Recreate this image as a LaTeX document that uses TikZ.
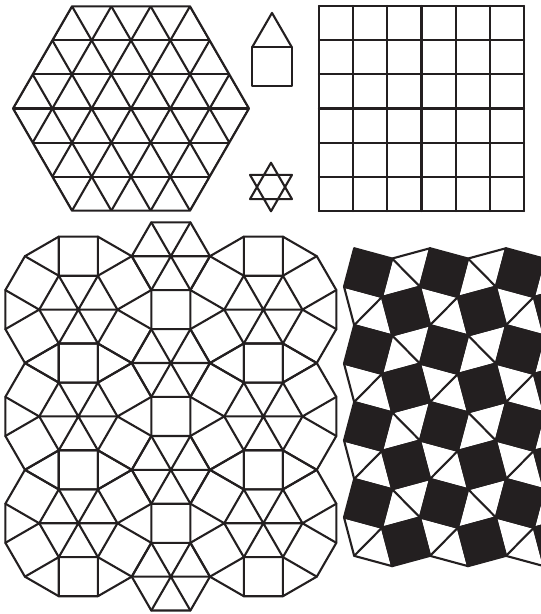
\documentclass[tikz,border=0pt]{standalone}
\usepackage{tikz}
\usetikzlibrary{calc}
\definecolor{ink}{RGB}{35,31,32}
\tikzset{every picture/.append style={thick}}
\tikzset{
    edge/.style={draw=ink, line width=2.1pt, line join=round, line cap=round},
    darktile/.style={fill=ink, draw=ink, line width=2.1pt, line join=round},
    lighttile/.style={fill=white, draw=ink, line width=2.1pt, line join=round}
}

\begin{document}
\begin{tikzpicture}[x=1pt,y=1pt]
    \useasboundingbox (0,0) rectangle (541,-614);

    % hexagon cut into triangles
    \begin{scope}[shift={(131,-108.5)}]
        \begin{scope}
            \clip (0:118) -- (60:118) -- (120:118) -- (180:118) -- (240:118) -- (300:118) -- cycle;
            \foreach \k in {-3,...,3} {
                \draw[edge] (-130,\k*34.06) -- (130,\k*34.06);
            }
            \foreach \m in {-6,...,6} {
                \draw[edge] ($(\m*39.33,0)+(240:250)$) -- ($(\m*39.33,0)+(60:250)$);
                \draw[edge] ($(\m*39.33,0)+(300:250)$) -- ($(\m*39.33,0)+(120:250)$);
            }
        \end{scope}
        \draw[edge] (0:118) -- (60:118) -- (120:118) -- (180:118) -- (240:118) -- (300:118) -- cycle;
    \end{scope}

    % house and star
    \draw[edge] (252.3,-86.3) rectangle (291.7,-47);
    \draw[edge] (252.3,-47) -- (272,-12.9) -- (291.7,-47);
    \draw[edge] (271,-187) +(90:24.25) -- +(210:24.25) -- +(330:24.25) -- cycle
                (271,-187) +(270:24.25) -- +(30:24.25) -- +(150:24.25) -- cycle;

    % square grid
    \foreach \i in {0,...,6} {
        \draw[edge] (319+\i*34.17,-6) -- (319+\i*34.17,-211);
        \draw[edge] (319,-6-\i*34.17) -- (524,-6-\i*34.17);
    }

    % squares, triangles and hexagons
    \foreach \cx/\cy in {170.85/256.2, 170.85/363.02, 170.85/469.84, 170.85/576.66,
                         78.34/309.61, 78.34/416.43, 78.34/523.25,
                         263.36/309.61, 263.36/416.43, 263.36/523.25} {
        \draw[edge] (\cx,-\cy) +(0:39.1) -- +(60:39.1) -- +(120:39.1) -- +(180:39.1) -- +(240:39.1) -- +(300:39.1) -- cycle;
        \draw[edge] (\cx,-\cy) +(0:39.1) -- +(180:39.1) +(60:39.1) -- +(240:39.1) +(120:39.1) -- +(300:39.1);
    }
    \foreach \cx/\cy in {78.34/309.61, 78.34/416.43, 78.34/523.25,
                         263.36/309.61, 263.36/416.43, 263.36/523.25} {
        \draw[edge] (\cx,-\cy) +(15:75.54) \foreach \t in {45,75,...,345} { -- +(\t:75.54) } -- cycle;
        \foreach \t in {0,60,...,300} {
            \draw[edge] ($(\cx,-\cy)+(\t:39.1)$) -- ($(\cx,-\cy)+(\t+15:75.54)$)
                        ($(\cx,-\cy)+(\t:39.1)$) -- ($(\cx,-\cy)+(\t-15:75.54)$);
        }
    }

    % black squares with white triangles
    \begin{scope}
        \clip (0,0) rectangle (541,-614);
        \begin{scope}[shift={(368.07,-272.6)}, yscale=1.013]
            \foreach \i in {1,3,5} {
                \foreach \j in {0,2,4,6} {
                    \draw[lighttile] (\i*37.96,-\j*37.96) +(45:34.03) -- +(135:19.65) -- +(225:34.03) -- +(315:19.65) -- cycle;
                    \draw[edge] (\i*37.96,-\j*37.96) +(135:19.65) -- +(315:19.65);
                }
            }
            \foreach \i in {0,2,4} {
                \foreach \j in {1,3,5,7} {
                    \draw[lighttile] (\i*37.96,-\j*37.96) +(45:19.65) -- +(135:34.03) -- +(225:19.65) -- +(315:34.03) -- cycle;
                    \draw[edge] (\i*37.96,-\j*37.96) +(45:19.65) -- +(225:19.65);
                }
            }
            \foreach \i in {0,2,4} {
                \foreach \j in {0,2,4,6} {
                    \draw[darktile] (\i*37.96,-\j*37.96) +(30:27.79) -- +(120:27.79) -- +(210:27.79) -- +(300:27.79) -- cycle;
                }
            }
            \foreach \i in {1,3,5} {
                \foreach \j in {1,3,5,7} {
                    \draw[darktile] (\i*37.96,-\j*37.96) +(60:27.79) -- +(150:27.79) -- +(240:27.79) -- +(330:27.79) -- cycle;
                }
            }
        \end{scope}
    \end{scope}
\end{tikzpicture}
\end{document}
